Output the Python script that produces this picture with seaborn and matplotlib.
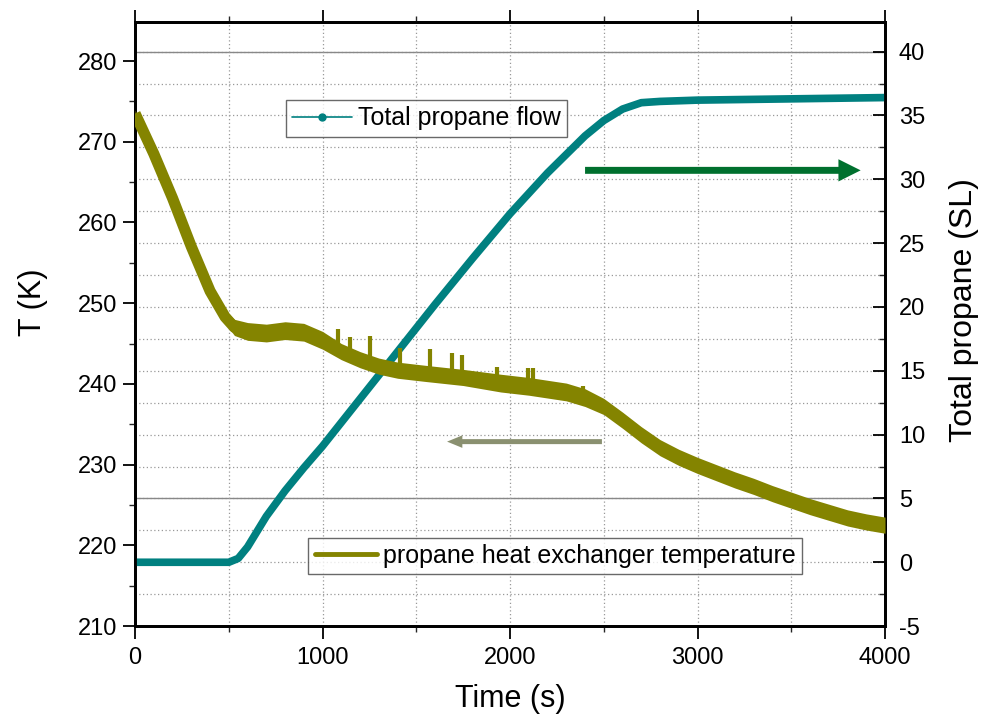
import numpy as np
import pandas as pd
import matplotlib
matplotlib.use("Agg")
import matplotlib.pyplot as plt
from matplotlib.lines import Line2D
from matplotlib.ticker import MultipleLocator
import seaborn as sns

# ---------------- data ----------------
temp_time = [0, 50, 100, 200, 300, 400, 480, 530, 600, 700, 800, 900, 1000, 1100,
             1200, 1300, 1400, 1550, 1750, 1950, 2100, 2300, 2400, 2500, 2600, 2700,
             2800, 2900, 3000, 3100, 3200, 3300, 3400, 3500, 3600, 3700, 3800, 3900, 4000]
temp_K = [273.5, 271.0, 268.5, 263.0, 257.0, 251.5, 248.3, 247.0, 246.5, 246.3, 246.6,
          246.4, 245.4, 244.0, 243.0, 242.2, 241.7, 241.3, 240.8, 240.1, 239.7, 239.0,
          238.3, 237.2, 235.5, 233.7, 232.1, 230.9, 229.9, 229.0, 228.1, 227.3, 226.4,
          225.6, 224.8, 224.1, 223.4, 222.9, 222.5]
# noise-band half width (K)
temp_band = [0.4, 0.5, 0.5, 0.6, 0.6, 0.7, 0.8, 1.0, 1.1, 1.1, 1.1, 1.1, 1.1, 1.0,
             1.0, 1.0, 1.0, 1.0, 1.0, 1.1, 1.1, 1.1, 1.1, 1.0, 1.0, 1.0,
             1.0, 1.0, 1.0, 1.0, 1.0, 1.0, 1.0, 1.0, 1.0, 1.0, 1.0, 1.0, 1.0]
spike_time = [1083, 1147, 1253, 1413, 1573, 1690, 1743, 1931, 2096, 2123, 2390]
spike_top = [246.8, 245.8, 245.9, 244.4, 244.3, 243.8, 243.6, 242.1, 242.0, 242.0, 239.8]

flow_time = [0, 500, 550, 600, 700, 800, 900, 1000, 1200, 1400, 1600, 1800, 2000,
             2200, 2400, 2500, 2600, 2700, 2800, 3000, 3500, 4000]
flow_SL = [0, 0, 0.3, 1.2, 3.6, 5.6, 7.4, 9.1, 12.8, 16.5, 20.2, 23.8, 27.3,
           30.5, 33.4, 34.6, 35.5, 36.0, 36.1, 36.2, 36.3, 36.4]

x_ticks = [0, 1000, 2000, 3000, 4000]
left_ticks = [210, 220, 230, 240, 250, 260, 270, 280]
right_ticks = [-5, 0, 5, 10, 15, 20, 25, 30, 35, 40]

label_temp = "propane heat exchanger temperature"
label_flow = "Total propane flow"

OLIVE = "#848400"
TEAL = "#008080"

# ---------------- style ----------------
sns.set_style("white")
plt.rcParams['font.family'] = ['Liberation Sans', 'DejaVu Sans']
plt.rcParams['axes.unicode_minus'] = False
plt.rcParams['text.color'] = 'black'
plt.rcParams['axes.labelcolor'] = 'black'

fig = plt.figure(figsize=(9.86, 7.18), dpi=100)
ax = fig.add_axes([0.137, 0.128, 0.7606, 0.841])
ax2 = ax.twinx()

df_t = pd.DataFrame({"t": temp_time, "T": temp_K, "hw": temp_band})
df_f = pd.DataFrame({"t": flow_time, "F": flow_SL})

# right-axis grid (dotted, every 2.5) and solid lines
for v in np.arange(-2.5, 42.5, 2.5):
    ax2.axhline(v, color="#999999", lw=0.9, ls=(0, (1, 2)), zorder=0)
for v in [5, 40]:
    ax2.axhline(v, color="#888888", lw=1.0, zorder=0)
for v in range(500, 4000, 500):
    ax2.axvline(v, color="#999999", lw=0.9, ls=(0, (1, 2)), zorder=0)

sns.lineplot(data=df_t, x="t", y="T", ax=ax, color=OLIVE, lw=8, legend=False,
             solid_capstyle="butt", solid_joinstyle="round", zorder=3)
ax.fill_between(df_t["t"], df_t["T"] - df_t["hw"], df_t["T"] + df_t["hw"],
                color=OLIVE, lw=0, zorder=3)
base = np.interp(spike_time, temp_time, temp_K)
ax.vlines(spike_time, base, spike_top, color=OLIVE, lw=3, zorder=3)

sns.lineplot(data=df_f, x="t", y="F", ax=ax2, color=TEAL, lw=5.5, legend=False,
             solid_capstyle="butt", solid_joinstyle="round", zorder=4)

ax.set_zorder(ax2.get_zorder() + 1)
ax.patch.set_visible(False)

ax.set_xlim(0, 4000)
ax.set_ylim(210, 284.8)
ax2.set_ylim(-5, 42.3)

ax.set_xticks(x_ticks)
ax.xaxis.set_minor_locator(MultipleLocator(500))
ax.set_yticks(left_ticks)
ax.yaxis.set_minor_locator(MultipleLocator(5))
ax2.set_yticks(right_ticks)
ax2.yaxis.set_minor_locator(MultipleLocator(2.5))

ax.tick_params(axis="both", which="major", direction="out", length=9, width=1.3,
               labelsize=17, colors="black", top=True, bottom=True)
ax.tick_params(axis="x", which="major", pad=6)
ax.tick_params(axis="y", which="major", pad=4)
ax.tick_params(axis="both", which="minor", direction="out", length=4.5, width=1.0,
               top=True, bottom=True)
ax2.tick_params(axis="y", which="major", direction="in", length=9, width=1.3,
                labelsize=17, colors="black", pad=10)
ax2.tick_params(axis="y", which="minor", direction="in", length=4.5, width=1.0)

for a in (ax, ax2):
    for s in a.spines.values():
        s.set_visible(True)
        s.set_color("black")
        s.set_linewidth(2.0)

ax.set_xlabel("Time (s)", fontsize=22, labelpad=11, color="black")
ax.set_ylabel("T (K)", fontsize=22, color="black")
ax.yaxis.set_label_coords(-0.116, 0.536)
ax2.set_ylabel("Total propane (SL)", fontsize=23, color="black")
ax2.yaxis.set_label_coords(1.085, 0.523)

# legends
h1 = Line2D([], [], color=TEAL, lw=1.2, marker="o", markersize=5)
leg1 = ax.legend([h1], [label_flow], loc="upper left", bbox_to_anchor=(0.201, 0.871),
                 borderaxespad=0, fontsize=18, frameon=True, fancybox=False,
                 edgecolor="#444444", handlelength=2.4, handletextpad=0.25,
                 borderpad=0.25, labelcolor="black")
leg1.get_frame().set_linewidth(1.0)
ax.add_artist(leg1)
h2 = Line2D([], [], color=OLIVE, lw=3.5)
leg2 = ax.legend([h2], [label_temp], loc="upper left", bbox_to_anchor=(0.231, 0.146),
                 borderaxespad=0, fontsize=18, frameon=True, fancybox=False,
                 edgecolor="#444444", handlelength=2.5, handletextpad=0.25,
                 borderpad=0.25, labelcolor="black")
leg2.get_frame().set_linewidth(1.0)

# arrows
ax2.annotate("", xy=(3870, 30.7), xytext=(2400, 30.7),
             arrowprops=dict(arrowstyle="simple,head_length=0.8,head_width=0.8,tail_width=0.25",
                             mutation_scale=20, color="#00702E", lw=0,
                             shrinkA=0, shrinkB=0))
ax2.annotate("", xy=(1664, 9.45), xytext=(2490, 9.45),
             arrowprops=dict(arrowstyle="simple,head_length=0.55,head_width=0.45,tail_width=0.18",
                             mutation_scale=20, color="#8A9070", lw=0,
                             shrinkA=0, shrinkB=0))

fig.savefig("out.png", dpi=100)
